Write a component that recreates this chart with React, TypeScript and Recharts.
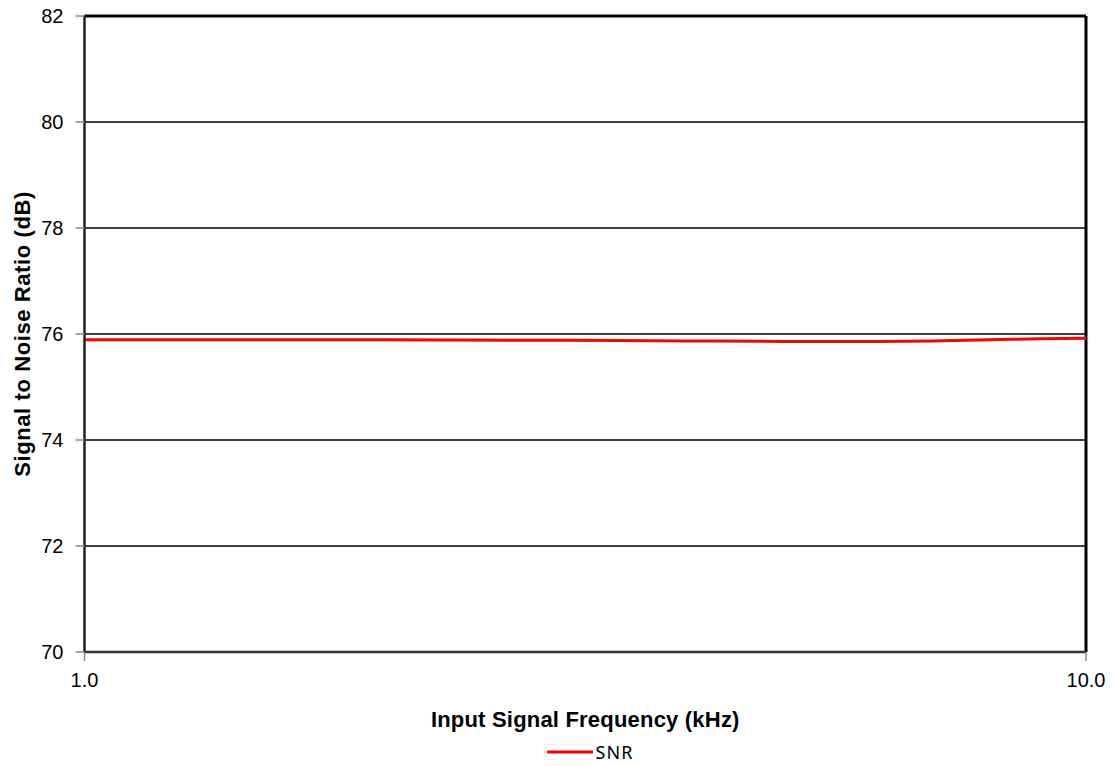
import { LineChart, Line, XAxis, YAxis, CartesianGrid, Legend, ReferenceLine } from 'recharts';

// Input frequency in kHz, SNR in dB
const frequencies = [1, 2, 3, 4, 5, 6, 7, 8, 9, 10];
const snrValues = [75.89, 75.89, 75.88, 75.87, 75.86, 75.86, 75.87, 75.89, 75.91, 75.92];
const yTicks = [70, 72, 74, 76, 78, 80, 82];
const xTicks = [1, 10];

const data = frequencies.map((f, i) => ({ freq: f, snr: snrValues[i] }));

const font = '"Liberation Sans", Arial, sans-serif';

function LegendContent() {
  return (
    <div style={{ height: 30, paddingTop: 10, boxSizing: 'border-box', display: 'flex', justifyContent: 'center', paddingLeft: 94 }}>
      <div style={{ display: 'flex', alignItems: 'center', height: 20 }}>
        <svg width={46} height={20}>
          <line x1={0} y1={10} x2={46} y2={10} stroke="#ff0000" strokeWidth={3} />
        </svg>
        <span style={{ fontFamily: '"Noto Sans", sans-serif', fontSize: 18, letterSpacing: 1, marginLeft: 3, color: '#000' }}>SNR</span>
      </div>
    </div>
  );
}

export default function App() {
  return (
    <div style={{ position: 'absolute', left: 0, top: 0, background: '#fff' }}>
      <LineChart width={1114} height={766} data={data} margin={{ top: 16, right: 28, left: 0, bottom: 4 }}>
        <CartesianGrid vertical={false} stroke="#000" strokeWidth={1.3} />
        <XAxis
          dataKey="freq"
          type="number"
          scale="log"
          domain={[1, 10]}
          ticks={xTicks}
          allowDataOverflow
          tickFormatter={(v: number) => v.toFixed(1)}
          height={80}
          tickSize={9}
          tickMargin={12}
          axisLine={{ stroke: '#333', strokeWidth: 2.5 }}
          tickLine={{ stroke: '#888', strokeWidth: 1.5 }}
          tick={{ fill: '#000', fontSize: 20, fontFamily: font }}
          label={{
            value: 'Input Signal Frequency (kHz)',
            position: 'insideTop',
            offset: 59,
            style: { fill: '#000', fontSize: 22, fontWeight: 'bold', fontFamily: font, letterSpacing: 0.2 },
          }}
        />
        <YAxis
          type="number"
          domain={[70, 82]}
          ticks={yTicks}
          width={84.5}
          tickSize={9}
          tickMargin={12}
          axisLine={{ stroke: '#222', strokeWidth: 2.5 }}
          tickLine={{ stroke: '#888', strokeWidth: 1.5 }}
          tick={{ fill: '#000', fontSize: 20, fontFamily: font }}
          label={{
            value: 'Signal to Noise Ratio (dB)',
            angle: -90,
            position: 'insideLeft',
            offset: 22,
            style: { textAnchor: 'middle', fill: '#000', fontSize: 22, fontWeight: 'bold', fontFamily: font, letterSpacing: 0.6 },
          }}
        />
        <ReferenceLine y={82} stroke="#000" strokeWidth={3} />
        <ReferenceLine x={10} stroke="#000" strokeWidth={3} />
        <Legend verticalAlign="bottom" height={30} content={() => <LegendContent />} />
        <Line
          type="monotone"
          dataKey="snr"
          name="SNR"
          stroke="#ff0000"
          strokeWidth={3}
          dot={false}
          isAnimationActive={false}
        />
      </LineChart>
    </div>
  );
}
